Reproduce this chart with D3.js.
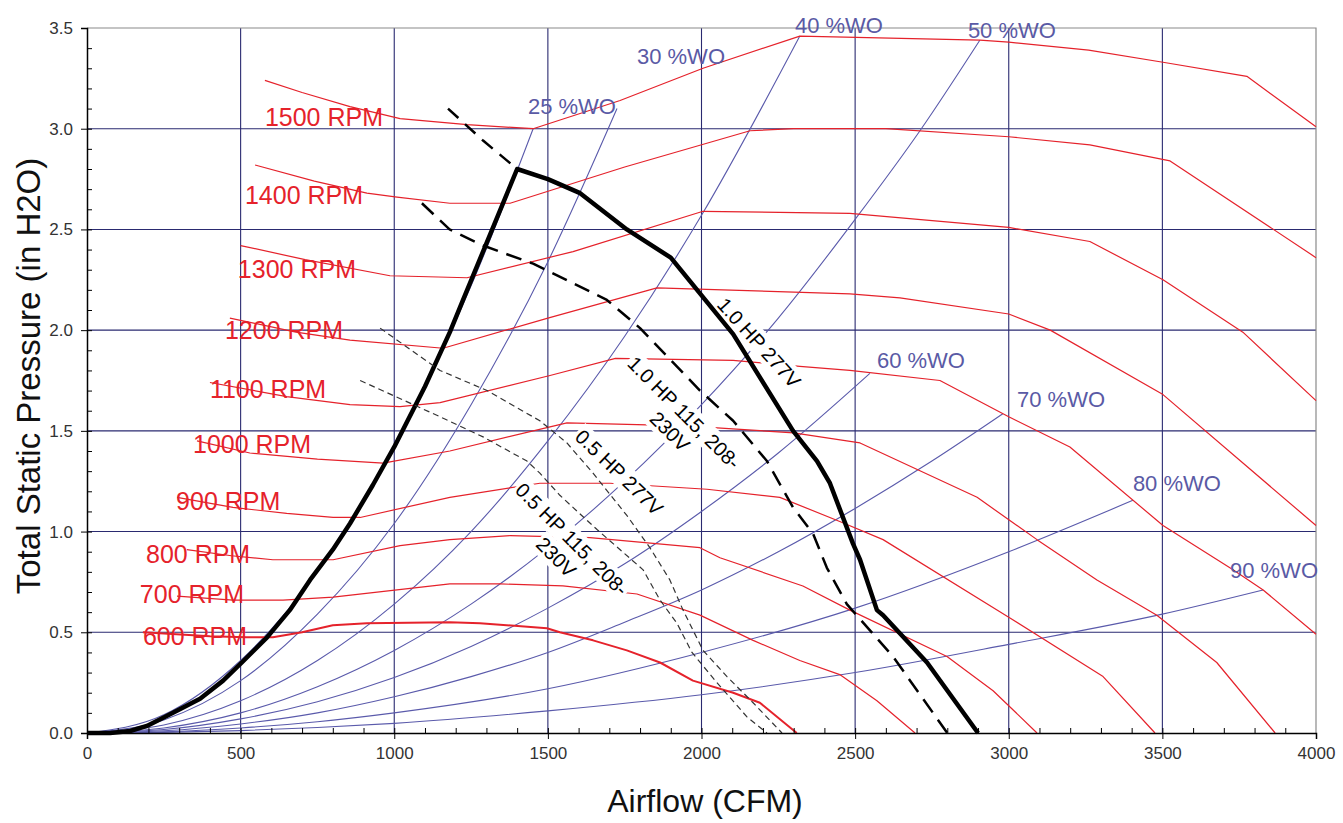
<!DOCTYPE html>
<html>
  <head>
    <meta charset="utf-8">
    <title>Fan Curves</title>
    <script src="https://d3js.org/d3.v7.min.js"></script>
    <style>
      body { margin: 0; background: #fff; }
      text { font-family: "Liberation Sans", Arial, sans-serif; }
      .axis .domain { stroke: #000; stroke-width: 1.5px; }
      .axis line { stroke: #000; }
      .axis text { font-size: 17px; fill: #333; }
    </style>
  </head>
  <body>
    <svg width="1343" height="823"></svg>

    <script>
      // Axis ticks
      var xTicks = [0, 500, 1000, 1500, 2000, 2500, 3000, 3500, 4000];
      var yTicks = [0, 0.5, 1.0, 1.5, 2.0, 2.5, 3.0, 3.5];

      // Fan curves, [CFM, in H2O]
      var rpm600 = [[182,0.50],[400,0.48],[520,0.475],[605,0.475],[700,0.50],[800,0.535],[911,0.545],[1181,0.55],[1279,0.545],[1497,0.52],[1539,0.50],[1647,0.46],[1757,0.41],[1865,0.35],[1972,0.26],[2103,0.20],[2190,0.15],[2310,0]];
      var rpm700 = [[293,0.68],[475,0.66],[638,0.66],[801,0.675],[1181,0.74],[1344,0.74],[1549,0.73],[1790,0.69],[1995,0.585],[2168,0.46],[2320,0.36],[2450,0.29],[2571,0.16],[2695,0]];
      var rpm800 = [[325,0.91],[470,0.88],[605,0.86],[801,0.86],[1019,0.93],[1181,0.96],[1377,0.98],[1637,0.97],[1995,0.92],[2060,0.87],[2330,0.73],[2483,0.61],[2799,0.38],[2949,0.21],[3092,0]];
      var rpm900 = [[293,1.17],[475,1.12],[650,1.09],[801,1.07],[889,1.07],[1181,1.17],[1474,1.24],[1702,1.24],[2018,1.21],[2255,1.17],[2450,1.05],[2591,0.96],[3000,0.575],[3307,0.28],[3476,0]];
      var rpm1000 = [[358,1.45],[530,1.39],[750,1.36],[964,1.34],[1181,1.40],[1507,1.52],[1562,1.54],[1823,1.53],[2000,1.52],[2300,1.49],[2516,1.44],[2897,1.17],[3092,0.96],[3287,0.76],[3482,0.585],[3677,0.35],[3867,0]];
      var rpm1100 = [[400,1.74],[650,1.67],[856,1.63],[1019,1.62],[1149,1.64],[1507,1.775],[1720,1.86],[2103,1.85],[2320,1.82],[2483,1.80],[2776,1.75],[3000,1.57],[3199,1.42],[3502,1.03],[3730,0.81],[3828,0.71],[4000,0.49]];
      var rpm1200 = [[465,2.06],[680,1.99],[856,1.95],[1159,1.91],[1500,2.06],[1855,2.21],[2483,2.18],[2646,2.16],[3000,2.08],[3135,2.00],[3502,1.68],[4000,1.03]];
      var rpm1300 = [[500,2.42],[710,2.35],[986,2.27],[1237,2.26],[1582,2.39],[2005,2.59],[2483,2.58],[3000,2.51],[3264,2.44],[3502,2.25],[3762,1.99],[4000,1.65]];
      var rpm1400 = [[547,2.82],[740,2.74],[911,2.68],[1009,2.66],[1181,2.63],[1377,2.63],[1750,2.81],[2158,2.99],[2300,3.00],[2600,3.00],[3000,2.96],[3264,2.92],[3525,2.84],[4000,2.36]];
      var rpm1500 = [[579,3.24],[700,3.18],[856,3.11],[1019,3.05],[1237,3.02],[1452,3.00],[1735,3.14],[2005,3.30],[2320,3.46],[2906,3.44],[3000,3.43],[3260,3.39],[3502,3.33],[3775,3.26],[4000,3.01]];
      var rpmNames = ["600 RPM", "700 RPM", "800 RPM", "900 RPM", "1000 RPM", "1100 RPM", "1200 RPM", "1300 RPM", "1400 RPM", "1500 RPM"];

      // Percent wide open lines
      var wo25 = [[0,0],[250,0.09],[500,0.36],[750,0.80],[1000,1.42],[1250,2.22],[1452,3.00]];
      var wo30 = [[0,0],[250,0.065],[500,0.26],[750,0.59],[1000,1.04],[1250,1.63],[1500,2.34],[1725,3.10]];
      var wo40 = [[0,0],[250,0.04],[500,0.16],[750,0.36],[1000,0.64],[1250,1.00],[1500,1.45],[1750,1.97],[2000,2.57],[2320,3.46]];
      var wo50 = [[0,0],[250,0.025],[500,0.10],[750,0.23],[1000,0.41],[1250,0.64],[1500,0.92],[1750,1.25],[2000,1.63],[2250,2.06],[2500,2.55],[2711,2.99],[2906,3.44]];
      var wo60 = [[0,0],[250,0.017],[500,0.07],[750,0.155],[1000,0.275],[1250,0.43],[1500,0.62],[1750,0.84],[2000,1.10],[2250,1.39],[2548,1.785]];
      var wo70 = [[0,0],[250,0.011],[500,0.045],[750,0.10],[1000,0.18],[1250,0.28],[1500,0.40],[1750,0.55],[2000,0.71],[2250,0.90],[2500,1.115],[2750,1.35],[2981,1.585]];
      var wo80 = [[0,0],[250,0.006],[500,0.025],[750,0.056],[1000,0.10],[1500,0.22],[2000,0.40],[2500,0.62],[3000,0.90],[3404,1.155]];
      var wo90 = [[0,0],[250,0.003],[500,0.012],[750,0.027],[1000,0.048],[1500,0.11],[2000,0.19],[2500,0.30],[3000,0.44],[3500,0.59],[3828,0.71]];
      var woNames = ["25 %WO", "30 %WO", "40 %WO", "50 %WO", "60 %WO", "70 %WO", "80 %WO", "90 %WO"];

      // Motor limit lines
      var hp1_277 = [[0,0],[75,0],[140,0.01],[195,0.035],[280,0.10],[368,0.17],[443,0.26],[504,0.35],[586,0.475],[660,0.61],[726,0.76],[800,0.91],[856,1.04],[930,1.23],[1000,1.42],[1100,1.72],[1181,1.99],[1224,2.15],[1400,2.80],[1500,2.75],[1605,2.68],[1757,2.50],[1900,2.36],[2103,1.98],[2298,1.50],[2376,1.35],[2418,1.24],[2493,0.94],[2516,0.86],[2571,0.61],[2591,0.585],[2734,0.35],[2900,0]];
      var hp1_277ext = [[1175,3.10],[1290,2.94],[1400,2.80]];
      var hp1_115 = [[1090,2.63],[1180,2.50],[1289,2.42],[1452,2.33],[1692,2.15],[1800,2.01],[1995,1.70],[2103,1.55],[2213,1.35],[2298,1.12],[2363,0.99],[2408,0.82],[2473,0.64],[2623,0.38],[2800,0]];
      var hp05_277 = [[954,2.01],[1149,1.80],[1302,1.70],[1474,1.55],[1562,1.44],[1647,1.29],[1757,1.08],[1832,0.92],[1897,0.76],[1940,0.61],[2005,0.41],[2083,0.28],[2168,0.15],[2262,0]];
      var hp05_115 = [[889,1.75],[1149,1.57],[1289,1.47],[1432,1.35],[1474,1.29],[1539,1.18],[1660,1.01],[1810,0.81],[1865,0.66],[1920,0.545],[1969,0.40],[2050,0.25],[2148,0.08],[2213,0]];
      var tagNames = ["1.0 HP 277V", "1.0 HP 115, 208-", "230V", "0.5 HP 277V", "0.5 HP 115, 208-", "230V"];

      // Where the labels sit, in chart units
      var rpmLabelAt = [[182,0.436],[172,0.645],[192,0.843],[290,1.106],[345,1.388],[400,1.661],[449,1.958],[491,2.26],[514,2.628],[579,3.014]];
      var woLabelAt = [[1435,3.074],[1790,3.322],[2304,3.475],[2867,3.451],[2571,1.81],[3027,1.616],[3404,1.20],[3720,0.768]];
      var tagAt = [[2187,1.937],[1943,1.59],[1897,1.497],[1732,1.294],[1578,0.962],[1527,0.873]];
      var tagAngle = [48, 45, 45, 44, 45, 45];

      var svg = d3.select("svg");

      var x = d3.scaleLinear().domain([0, 4000]).range([87, 1316]);
      var y = d3.scaleLinear().domain([0, 3.5]).range([733, 28]);

      // smooth for the %WO curves, straight segments for the rest
      var smooth = d3.line()
          .x(function(d) { return x(d[0]); })
          .y(function(d) { return y(d[1]); })
          .curve(d3.curveMonotoneX);
      var line = d3.line()
          .x(function(d) { return x(d[0]); })
          .y(function(d) { return y(d[1]); });

      // Grid
      var grid = svg.append("g");
      grid.selectAll(".vx")
          .data(xTicks.slice(1, -1))
          .enter().append("line")
          .attr("x1", function(d) { return x(d); })
          .attr("x2", function(d) { return x(d); })
          .attr("y1", y(0)).attr("y2", y(3.5))
          .attr("stroke", "#2a2a70").attr("stroke-width", 1.1);
      grid.selectAll(".hy")
          .data(yTicks.slice(1, -1))
          .enter().append("line")
          .attr("x1", x(0)).attr("x2", x(4000))
          .attr("y1", function(d) { return y(d); })
          .attr("y2", function(d) { return y(d); })
          .attr("stroke", "#2a2a70").attr("stroke-width", 1.1);
      // top and right frame
      grid.append("path")
          .attr("d", "M" + x(0) + "," + y(3.5) + "H" + x(4000) + "V" + y(0))
          .attr("fill", "none").attr("stroke", "#8a8a8a").attr("stroke-width", 1.2);

      // %WO lines
      var woLines = [wo25, wo30, wo40, wo50, wo60, wo70, wo80, wo90];
      svg.append("g").selectAll("path")
          .data(woLines)
          .enter().append("path")
          .attr("d", smooth)
          .attr("fill", "none")
          .attr("stroke", "#5a5aab")
          .attr("stroke-width", 1.1);

      // RPM curves
      var rpmLines = [rpm600, rpm700, rpm800, rpm900, rpm1000, rpm1100, rpm1200, rpm1300, rpm1400, rpm1500];
      svg.append("g").selectAll("path")
          .data(rpmLines)
          .enter().append("path")
          .attr("d", line)
          .attr("fill", "none")
          .attr("stroke", "#e5222b")
          .attr("stroke-linejoin", "round")
          .attr("stroke-width", function(d, i) { return i === 0 ? 2 : 1.2; });

      // white boxes behind the motor labels, they cut the lines under them
      var tagBg = svg.append("g");

      // Motor limit lines
      var black = svg.append("g").attr("fill", "none").attr("stroke", "#000").attr("stroke-linejoin", "round");
      black.append("path").datum(hp1_277).attr("d", line).attr("stroke-width", 4.5);
      black.append("path").datum(hp1_277ext).attr("d", line).attr("stroke-width", 2.5).attr("stroke-dasharray", "14,9");
      black.append("path").datum(hp1_115).attr("d", line).attr("stroke-width", 2.5).attr("stroke-dasharray", "16,9");
      black.append("path").datum(hp05_277).attr("d", line).attr("stroke-width", 1.2).attr("stroke", "#333").attr("stroke-dasharray", "6,4");
      black.append("path").datum(hp05_115).attr("d", line).attr("stroke-width", 1.2).attr("stroke", "#333").attr("stroke-dasharray", "6,4");

      // Axes
      svg.append("g").attr("class", "axis")
          .attr("transform", "translate(0," + y(0) + ")")
          .call(d3.axisBottom(x).tickValues(xTicks).tickSize(6).tickPadding(8).tickFormat(d3.format("d")));
      svg.append("g").attr("class", "axis")
          .attr("transform", "translate(0," + y(0) + ")")
          .call(d3.axisBottom(x).tickValues(d3.range(100, 4000, 100)).tickSize(-5).tickFormat(""))
          .select(".domain").remove();
      svg.append("g").attr("class", "axis")
          .attr("transform", "translate(" + x(0) + ",0)")
          .call(d3.axisLeft(y).tickValues(yTicks).tickSize(6).tickPadding(8).tickFormat(d3.format(".1f")));
      svg.append("g").attr("class", "axis")
          .attr("transform", "translate(" + x(0) + ",0)")
          .call(d3.axisLeft(y).tickValues(d3.range(0.1, 3.5, 0.1)).tickSize(-5).tickFormat(""))
          .select(".domain").remove();

      // RPM labels
      svg.append("g").selectAll("text")
          .data(rpmNames)
          .enter().append("text")
          .attr("x", function(d, i) { return x(rpmLabelAt[i][0]); })
          .attr("y", function(d, i) { return y(rpmLabelAt[i][1]); })
          .attr("fill", "#e5222b")
          .attr("font-size", 25)
          .text(function(d) { return d; });

      // %WO labels
      svg.append("g").selectAll("text")
          .data(woNames)
          .enter().append("text")
          .attr("x", function(d, i) { return x(woLabelAt[i][0]); })
          .attr("y", function(d, i) { return y(woLabelAt[i][1]); })
          .attr("fill", "#5a5aa5")
          .attr("font-size", 22)
          .text(function(d) { return d; });

      // Motor labels, rotated along the lines
      var tags = svg.append("g");
      tagNames.forEach(function(name, i) {
        var tf = "translate(" + x(tagAt[i][0]) + "," + y(tagAt[i][1]) + ") rotate(" + tagAngle[i] + ")";
        var t = tags.append("text")
            .attr("transform", tf)
            .attr("text-anchor", "middle")
            .attr("dy", "0.35em")
            .attr("font-size", 20)
            .attr("fill", "#000")
            .text(name);
        var b = t.node().getBBox();
        tagBg.append("rect")
            .attr("transform", tf)
            .attr("x", b.x - 2).attr("y", b.y - 1)
            .attr("width", b.width + 4).attr("height", b.height + 2)
            .attr("fill", "#fff");
      });

      // Axis titles
      svg.append("text")
          .attr("transform", "translate(40,376) rotate(-90)")
          .attr("text-anchor", "middle")
          .attr("font-size", 33)
          .attr("fill", "#111")
          .text("Total  Static Pressure (in H2O)");
      svg.append("text")
          .attr("x", 705).attr("y", 812)
          .attr("text-anchor", "middle")
          .attr("font-size", 32)
          .attr("fill", "#111")
          .text("Airflow (CFM)");
    </script>
  </body>
</html>
